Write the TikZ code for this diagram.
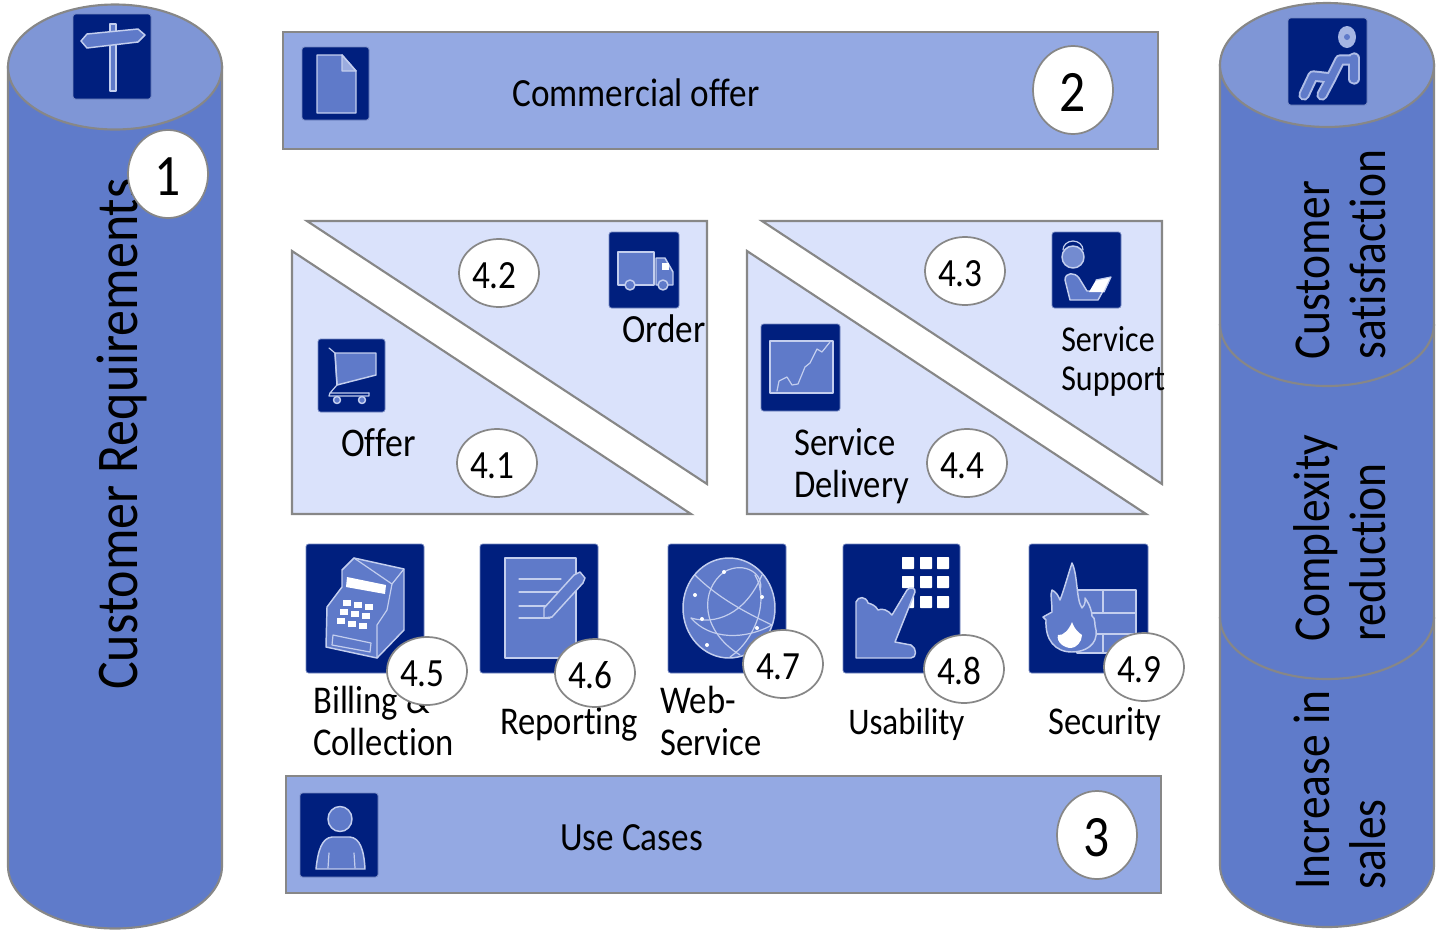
\documentclass[tikz,border=0pt]{standalone}
\usepackage{fontspec}
\setmainfont[FakeStretch=0.88,Ligatures=NoCommon]{Carlito}
\definecolor{navy}{HTML}{001F7E}
\definecolor{iconfill}{HTML}{5F7AC9}
\definecolor{iconline}{HTML}{C3CEEE}
\definecolor{cylbody}{HTML}{5F7BCA}
\definecolor{cyltop}{HTML}{7F96D6}
\definecolor{banner}{HTML}{94A9E3}
\definecolor{tri}{HTML}{DAE2FB}
\definecolor{edgegrey}{HTML}{878787}
\newcommand{\pxfont}[1]{\fontsize{#1}{#1}\selectfont}
\usetikzlibrary{shapes.geometric}
\tikzset{
  x=0.75pt,y=-0.75pt,
  shapeline/.style={draw=edgegrey,line width=1.6pt,line join=miter},
  cylside/.style={shapeline,fill=cylbody},
  cylcap/.style={shapeline,fill=cyltop},
  bannerbox/.style={shapeline,fill=banner},
  triangle/.style={shapeline,fill=tri},
  iconbox/.style={draw=iconline!60!navy,line width=0.6pt,fill=navy,rounded corners=2pt},
  glyph/.style={draw=iconline,line width=1.1pt,fill=iconfill,line join=round},
  glyphline/.style={draw=iconline,line width=0.9pt,line cap=round,line join=round},
  glyphwhite/.style={fill=white,draw=none},
  bubble/.style={ellipse,draw=edgegrey,line width=1.3pt,fill=white,inner sep=0pt,minimum width=60pt,minimum height=51pt,font=\pxfont{30},text height=23pt,text depth=0pt,execute at end node=\hspace*{7pt}},
  bignum/.style={ellipse,draw=edgegrey,line width=1.3pt,fill=white,inner sep=0pt,minimum width=60pt,minimum height=66pt,font=\pxfont{44},text height=32.5pt,text depth=0pt},
  lbl/.style={anchor=base west,inner sep=0pt,text=black,font=\pxfont{29.5}},
  lblsmall/.style={lbl,font=\pxfont{27.3}},
  vert/.style={anchor=base west,rotate=90,inner sep=0pt,text=black,font=\pxfont{38.8}},
  vertbig/.style={vert,font=\pxfont{44.3}},
}
\begin{document}
\begin{tikzpicture}
\useasboundingbox (0,0) rectangle (1440,933);
% left cylinder
\path[cylside] (8,67) -- (8,866) arc[start angle=180,end angle=0,x radius=107,y radius=62.5] -- (222,67) -- cycle;
\path[cylcap] (115,67) ellipse[x radius=107,y radius=62.5];
% right cylinder
\path[cylside] (1220,65) -- (1220,865) arc[start angle=180,end angle=0,x radius=107,y radius=62] -- (1434,65) -- cycle;
\draw[shapeline] (1220,324) arc[start angle=180,end angle=0,x radius=107,y radius=62];
\draw[shapeline] (1220,617) arc[start angle=180,end angle=0,x radius=107,y radius=62];
\path[cylcap] (1327,65) ellipse[x radius=107,y radius=62];
% banners
\path[bannerbox] (283,32) rectangle (1158,149);
\path[bannerbox] (286,776) rectangle (1161,893);
% triangles
\path[triangle] (292,251) -- (292,514) -- (691,514) -- cycle;
\path[triangle] (307,221) -- (707,221) -- (707,484) -- cycle;
\path[triangle] (747,251) -- (747,514) -- (1146,514) -- cycle;
\path[triangle] (762,221) -- (1162,221) -- (1162,484) -- cycle;

% signpost icon
\path[iconbox] (73,14) rectangle (151,99);
\path[glyph] (110,24) -- (116,24) -- (116,91) -- (110,91) -- cycle;
\path[glyph] (81,41) -- (87,34) -- (138,29) -- (145,35) -- (138,42) -- (87,48) -- cycle;
% document icon
\path[iconbox] (302,47) rectangle (369,120);
\path[glyph] (317,55) -- (342,55) -- (356,71) -- (356,113) -- (317,113) -- cycle;
\path[glyph,fill=iconline!60!iconfill] (342,55) -- (342,71) -- (356,71) -- cycle;
% seated person icon
\path[iconbox] (1288,18) rectangle (1367,105);
\fill[iconline!70!iconfill] (1347,37) ellipse[x radius=9,y radius=11];
\fill[iconfill] (1347,37) circle[radius=3];
\foreach \lw/\lc in {8.5pt/iconline!80!iconfill,5.5pt/iconfill}{
  \draw[\lc,line width=\lw,line cap=round,line join=round] (1354,58) -- (1354,79);
  \draw[\lc,line width=\lw,line cap=round,line join=round] (1352,60) -- (1340,60) -- (1331,78) -- (1313,76) -- (1304,95);
  \draw[\lc,line width=\lw,line cap=round,line join=round] (1331,78) -- (1322,95);
}
% truck icon
\path[iconbox] (609,232) rectangle (679,308);
\path[glyph] (618,252) -- (654,252) -- (654,285) -- (618,285) -- cycle;
\path[glyph] (656,258) -- (665,258) -- (673,272) -- (673,285) -- (656,285) -- cycle;
\fill[white] (662,263) rectangle (669,270);
\path[glyph] (630,285) circle[radius=5];
\path[glyph] (663,285) circle[radius=5];
% cart icon
\path[iconbox] (318,339) rectangle (385,412);
\path[glyph] (335,353) -- (376,353) -- (376,375) -- (337,385) -- cycle;
\draw[glyphline] (329,348) -- (335,353) -- (337,385) -- (330,393) -- (369,393);
\draw[glyphline] (330,393) -- (329,396) -- (369,396) -- (369,393);
\path[glyph] (337,400) circle[radius=3.5];
\path[glyph] (362,400) circle[radius=3.5];
% chart icon
\path[iconbox] (761,324) rectangle (840,411);
\path[glyph] (770,341) rectangle (833,393);
\draw[glyphline] (777,391) -- (779,381) -- (787,377) -- (792,385) -- (798,384) -- (805,367) -- (810,363) -- (817,349) -- (822,352) -- (830,342);
% support icon
\path[iconbox] (1052,232) rectangle (1121,308);
\path[glyph,fill=iconfill!80!iconline] (1073,257) ellipse[x radius=11,y radius=11];
\draw[glyphline] (1063,250) arc[start angle=180,end angle=360,x radius=10,y radius=9];
\path[glyph] (1065,280) .. controls (1065,272) and (1075,272) .. (1079,278) -- (1087,291) -- (1103,291) -- (1098,300) -- (1070,300) -- cycle;
\path[glyphwhite] (1096,280) -- (1111,277) -- (1104,292) -- (1089,292) -- cycle;
\draw[glyphline] (1096,280) -- (1111,277) -- (1104,292);
% register icon
\path[iconbox] (306,544) rectangle (424,673);
\path[glyph] (342,570) -- (354,558) -- (404,569) -- (404,630) -- (377,658) -- (326,647) -- (327,607) -- (342,587) -- cycle;
\draw[glyphline] (404,569) -- (392,584) -- (387,610) -- (377,625) -- (377,658);
\draw[glyphline] (354,558) -- (392,584);
\fill[white] (347,577) -- (386,585) -- (385,594) -- (346,587) -- cycle;
\foreach \kx/\ky in {343/600,354/602,365/604,340/609,351/611,362/613,337/618,348/621,359/623}{
  \fill[white] (\kx,\ky) rectangle ++(8,6);
}
\draw[glyphline] (333,635) -- (371,643) -- (370,652) -- (332,645) -- cycle;
% report icon
\path[iconbox] (480,544) rectangle (598,673);
\path[glyph] (505,558) rectangle (576,658);
\draw[glyphline] (519,579) -- (561,579) (519,592) -- (561,592) (519,606) -- (551,606) (519,618) -- (550,618);
\path[glyph] (544,608) -- (574,575) -- (580,572) -- (585,578) -- (583,583) -- (552,617) -- (544,618) -- cycle;
% globe icon
\path[iconbox] (668,544) rectangle (786,673);
\path[glyph] (729,608) ellipse[x radius=46,y radius=50];
\draw[glyphline] (695,575) .. controls (715,595) and (740,610) .. (772,625);
\draw[glyphline] (691,618) .. controls (715,625) and (745,615) .. (762,575);
\draw[glyphline] (724,572) .. controls (700,590) and (700,630) .. (740,655);
\draw[glyphline] (724,572) .. controls (745,560) and (765,575) .. (760,590);
\draw[glyphline] (691,618) .. controls (710,640) and (745,640) .. (772,625);
\draw[glyphline] (755,575) .. controls (770,600) and (755,640) .. (730,657);
\foreach \dx/\dy in {724/572,695/595,702/619,762/597,757/628,707/645}{\fill[white] (\dx,\dy) circle[radius=2];}
% usability icon
\path[iconbox] (843,544) rectangle (960,673);
\foreach \gx in {908,926,943}{\foreach \gy in {563,582,602}{
  \fill[white,rounded corners=0.5pt] (\gx-6,\gy-6) rectangle ++(12,12);
}}
\path[glyph] (856,602) .. controls (858,596) and (866,596) .. (868,603) .. controls (872,604) and (876,606) .. (878,610) .. controls (882,608) and (888,610) .. (892,615) -- (907,590) .. controls (910,586) and (916,588) .. (915,592) -- (895,642) -- (911,645) .. controls (917,648) and (917,658) .. (911,658) -- (856,658) -- cycle;
% security icon
\path[iconbox] (1029,544) rectangle (1148,673);
\path[glyph] (1077,590) rectangle (1136,653);
\draw[glyphline] (1077,613) -- (1136,613) (1077,634) -- (1136,634) (1103,590) -- (1103,613) (1103,634) -- (1103,653);
\path[glyph] (1072,563) .. controls (1078,575) and (1076,600) .. (1082,608) .. controls (1086,604) and (1085,600) .. (1085,598) .. controls (1090,605) and (1092,612) .. (1092,616) .. controls (1096,618) and (1094,625) .. (1096,630) .. controls (1098,645) and (1085,652) .. (1072,652) .. controls (1055,652) and (1045,640) .. (1046,620) -- (1043,617) -- (1052,612) .. controls (1052,600) and (1050,595) .. (1052,590) .. controls (1056,592) and (1058,595) .. (1060,600) .. controls (1064,590) and (1068,575) .. (1072,563) -- cycle;
\fill[white] (1072,622) .. controls (1075,630) and (1078,632) .. (1082,635) .. controls (1082,642) and (1076,648) .. (1071,648) .. controls (1064,648) and (1056,642) .. (1058,635) .. controls (1063,636) and (1069,630) .. (1072,622) -- cycle;
% person icon
\path[iconbox] (300,793) rectangle (378,877);
\path[glyph] (340,819) ellipse[x radius=12,y radius=12.5];
\path[glyph] (316,869) .. controls (318,850) and (322,838) .. (332,837) -- (350,837) .. controls (360,838) and (364,850) .. (365,869) -- cycle;
\draw[glyphline] (329,853) -- (328,868) (354,853) -- (355,868);

% labels
\node[vertbig] (creq) at (137,690) {Customer Requirements};
\node[vert] (cust1) at (1329,360) {Customer};
\node[vert] (cust2) at (1385,360) {satisfaction};
\node[vert] (cplx1) at (1329,642) {Complexity};
\node[vert] (cplx2) at (1385,642) {reduction};
\node[vert] (sale1) at (1329,890) {Increase in};
\node[vert] (sale2) at (1385,890) {sales};
\node[lbl,font=\pxfont{30}] (offerb) at (512,106) {Commercial offer};
\node[lbl,font=\pxfont{30}] (usecases) at (560,850) {Use Cases};
\node[lbl,font=\pxfont{30}] (ordert) at (622,342) {Order};
\node[lbl,font=\pxfont{30.5}] (offert) at (341,456) {Offer};
\node[lblsmall] (sup1) at (1061,351) {Service};
\node[lblsmall] (sup2) at (1061,390) {Support};
\node[lbl] (del1) at (794,455) {Service};
\node[lbl] (del2) at (794,497) {Delivery};
\node[lbl] (bil1) at (313,713) {Billing \&};
\node[lbl] (bil2) at (313,755) {Collection};
\node[lbl] (rept) at (500,734) {Reporting};
\node[lbl] (web1) at (660,713) {Web-};
\node[lbl] (web2) at (660,755) {Service};
\node[lbl,font=\pxfont{28.2}] (usab) at (848,734) {Usability};
\node[lbl] (secu) at (1048,734) {Security};
% bubbles
\node[bignum] (n1) at (168,174) {1};
\node[bignum] (n2) at (1073,90) {2};
\node[bignum] (n3) at (1097,835) {3};
\node[bubble] (b41) at (497,463) {4.1};
\node[bubble] (b42) at (499,273) {4.2};
\node[bubble] (b43) at (965,271) {4.3};
\node[bubble] (b44) at (967,463) {4.4};
\node[bubble] (b45) at (427,671) {4.5};
\node[bubble] (b46) at (595,673) {4.6};
\node[bubble] (b47) at (783,664) {4.7};
\node[bubble] (b48) at (964,669) {4.8};
\node[bubble] (b49) at (1144,667) {4.9};
\end{tikzpicture}
\end{document}
